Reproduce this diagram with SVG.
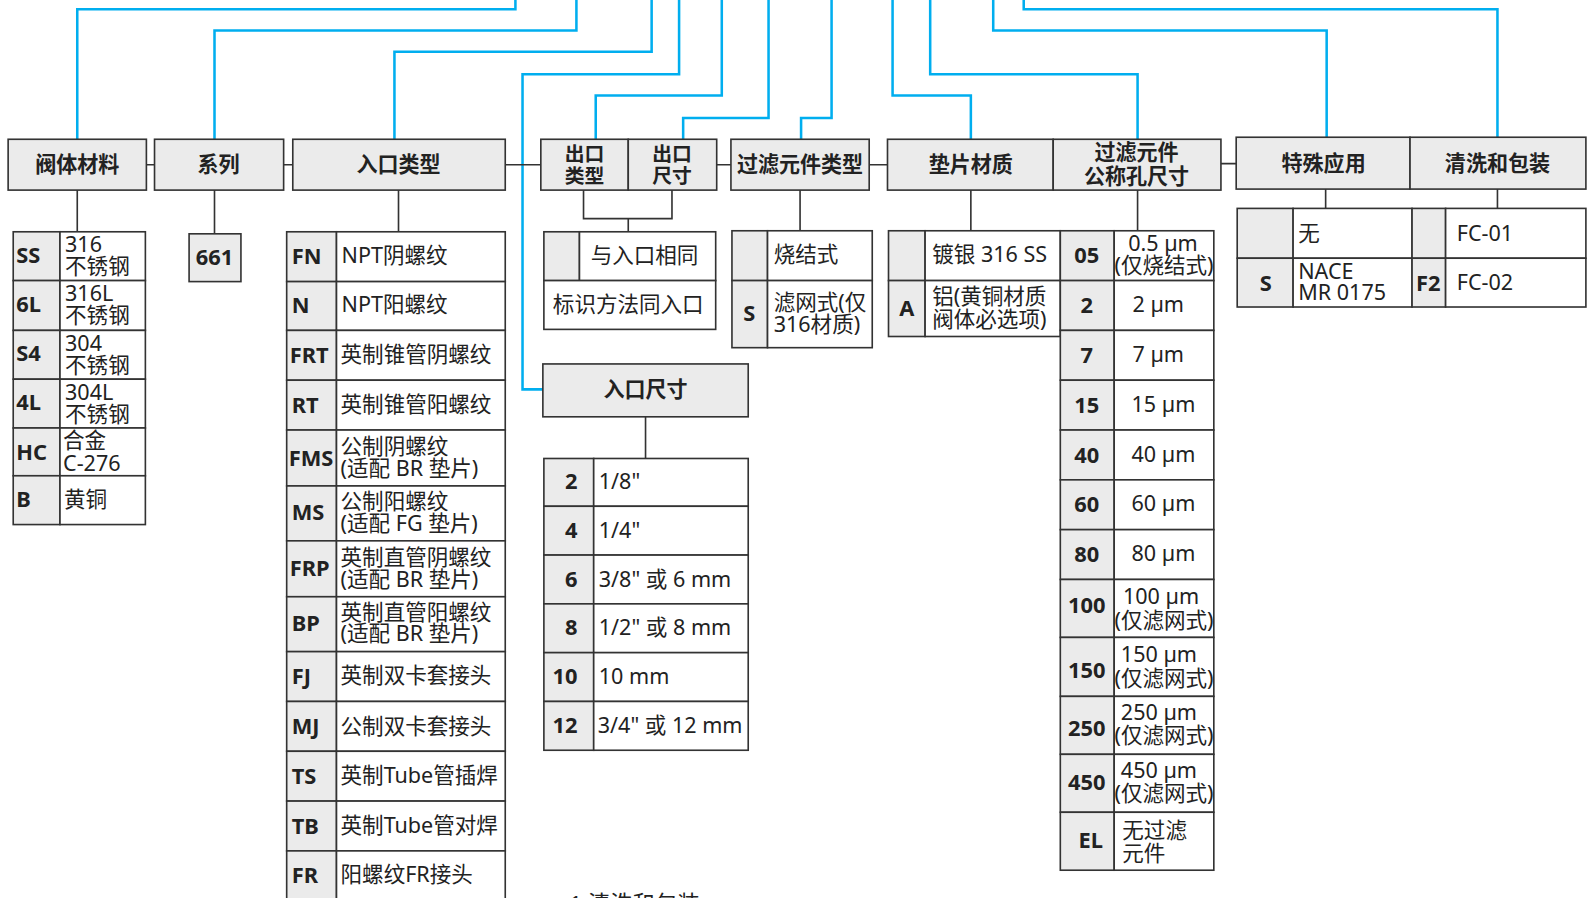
<svg xmlns="http://www.w3.org/2000/svg" width="1594" height="898" viewBox="0 0 1594 898">
<style>
.h{fill:#ebebeb;stroke:#333;stroke-width:1.6}
.w{fill:#fff;stroke:#333;stroke-width:1.6}
.g{fill:#ebebeb;stroke:#333;stroke-width:1.6}
.blue{fill:none;stroke:#00aeef;stroke-width:2.5}
.conn{fill:none;stroke:#333;stroke-width:1.6}
text{font-family:"Noto Sans","Noto Sans CJK SC",sans-serif;fill:#222}
.ht{font-size:20.7px;font-weight:bold;text-anchor:middle}
.ht2{font-size:19.5px;font-weight:bold;text-anchor:middle}
.c{font-size:21.5px;font-weight:bold}
.cm{font-size:21.5px;font-weight:bold;text-anchor:middle}
.ce{font-size:21.5px;font-weight:bold;text-anchor:end}
.t{font-size:21.2px}
.tm{font-size:21.2px;text-anchor:middle}
</style>
<rect width="1594" height="898" fill="#fff"/>
<g transform="scale(1.0166)">
<g id="connectors">
<path class="blue" d="M76 137V9H507V0"/>
<path class="blue" d="M211 137V30H567V0"/>
<path class="blue" d="M388 137V51H641V0"/>
<path class="blue" d="M534 383H514V73H668V0"/>
<path class="blue" d="M586 137V94H710V0"/>
<path class="blue" d="M672 137V116H756V0"/>
<path class="blue" d="M788 137V116H818V0"/>
<path class="blue" d="M955 137V94H878V0"/>
<path class="blue" d="M1119 137V73H915V0"/>
<path class="blue" d="M1305 135V30H977V0"/>
<path class="blue" d="M1473 135V9H1007V0"/>
<path class="conn" d="M144 162H152M279 162H288M497 162H532M705 162H719M855 162H873M1201 161H1216"/>
<path class="conn" d="M76 187V228M211 187V230M392 187V228M574 187V215H661V187M618 215V228M787 187V227M955 187V227M1119 187V227M1304 186V205M1473 186V205M635 410V451"/>
</g>
<g id="h-material"><rect class="h" x="8" y="137" width="136" height="50"/><text class="ht" x="76" y="169">阀体材料</text></g>
<g id="h-series"><rect class="h" x="152" y="137" width="127" height="50"/><text class="ht" x="215" y="169">系列</text></g>
<g id="h-inlet"><rect class="h" x="288" y="137" width="209" height="50"/><text class="ht" x="392" y="169">入口类型</text></g>
<g id="h-outlet"><rect class="h" x="532" y="137" width="86" height="50"/><rect class="h" x="618" y="137" width="87" height="50"/>
<text class="ht2" x="575" y="158">出口</text><text class="ht2" x="575" y="180">类型</text>
<text class="ht2" x="661" y="158">出口</text><text class="ht2" x="661" y="180">尺寸</text></g>
<g id="h-filter"><rect class="h" x="719" y="137" width="136" height="50"/><text class="ht" x="787" y="169">过滤元件类型</text></g>
<g id="h-gasket"><rect class="h" x="873" y="137" width="163" height="50"/><text class="ht" x="955" y="169">垫片材质</text></g>
<g id="h-pore"><rect class="h" x="1036" y="137" width="165" height="50"/><text class="ht" x="1118" y="157">过滤元件</text><text class="ht" x="1118" y="181">公称孔尺寸</text></g>
<g id="h-special"><rect class="h" x="1216" y="135" width="171" height="51"/><text class="ht" x="1302" y="168">特殊应用</text></g>
<g id="h-clean"><rect class="h" x="1387" y="135" width="173" height="51"/><text class="ht" x="1473" y="168">清洗和包装</text></g>
<g id="t-material">
<rect class="g" x="13" y="228" width="46" height="48"/><rect class="w" x="59" y="228" width="84" height="48"/>
<rect class="g" x="13" y="276" width="46" height="49"/><rect class="w" x="59" y="276" width="84" height="49"/>
<rect class="g" x="13" y="325" width="46" height="48"/><rect class="w" x="59" y="325" width="84" height="48"/>
<rect class="g" x="13" y="373" width="46" height="48"/><rect class="w" x="59" y="373" width="84" height="48"/>
<rect class="g" x="13" y="421" width="46" height="47"/><rect class="w" x="59" y="421" width="84" height="47"/>
<rect class="g" x="13" y="468" width="46" height="48"/><rect class="w" x="59" y="468" width="84" height="48"/>
<text class="c" x="16" y="259">SS</text><text class="t" x="64" y="248">316</text><text class="t" x="64" y="270">不锈钢</text>
<text class="c" x="16" y="307">6L</text><text class="t" x="64" y="296">316L</text><text class="t" x="64" y="318">不锈钢</text>
<text class="c" x="16" y="355">S4</text><text class="t" x="64" y="345">304</text><text class="t" x="64" y="367">不锈钢</text>
<text class="c" x="16" y="403">4L</text><text class="t" x="64" y="393">304L</text><text class="t" x="64" y="415">不锈钢</text>
<text class="c" x="16" y="452">HC</text><text class="t" x="62" y="441">合金</text><text class="t" x="62" y="463">C-276</text>
<text class="c" x="16" y="499">B</text><text class="t" x="63" y="499">黄铜</text>
</g>
<g id="t-series"><rect class="g" x="186" y="230" width="51" height="47"/><text class="cm" x="211" y="261">661</text></g>
<g id="t-inlet">
<rect class="g" x="282" y="228" width="49" height="49"/><rect class="w" x="331" y="228" width="166" height="49"/>
<rect class="g" x="282" y="277" width="49" height="48"/><rect class="w" x="331" y="277" width="166" height="48"/>
<rect class="g" x="282" y="325" width="49" height="49"/><rect class="w" x="331" y="325" width="166" height="49"/>
<rect class="g" x="282" y="374" width="49" height="49"/><rect class="w" x="331" y="374" width="166" height="49"/>
<rect class="g" x="282" y="423" width="49" height="55"/><rect class="w" x="331" y="423" width="166" height="55"/>
<rect class="g" x="282" y="478" width="49" height="54"/><rect class="w" x="331" y="478" width="166" height="54"/>
<rect class="g" x="282" y="532" width="49" height="55"/><rect class="w" x="331" y="532" width="166" height="55"/>
<rect class="g" x="282" y="587" width="49" height="54"/><rect class="w" x="331" y="587" width="166" height="54"/>
<rect class="g" x="282" y="641" width="49" height="49"/><rect class="w" x="331" y="641" width="166" height="49"/>
<rect class="g" x="282" y="690" width="49" height="49"/><rect class="w" x="331" y="690" width="166" height="49"/>
<rect class="g" x="282" y="739" width="49" height="49"/><rect class="w" x="331" y="739" width="166" height="49"/>
<rect class="g" x="282" y="788" width="49" height="49"/><rect class="w" x="331" y="788" width="166" height="49"/>
<rect class="g" x="282" y="837" width="49" height="80"/><rect class="w" x="331" y="837" width="166" height="80"/>
<text class="c" x="287" y="260">FN</text><text class="t" x="336" y="259">NPT阴螺纹</text>
<text class="c" x="287" y="308">N</text><text class="t" x="336" y="307">NPT阳螺纹</text>
<text class="c" x="285" y="357">FRT</text><text class="t" x="335" y="356">英制锥管阴螺纹</text>
<text class="c" x="287" y="406">RT</text><text class="t" x="335" y="405">英制锥管阳螺纹</text>
<text class="c" x="284" y="458">FMS</text><text class="t" x="335" y="447">公制阴螺纹</text><text class="t" x="335" y="468">(适配 BR 垫片)</text>
<text class="c" x="287" y="512">MS</text><text class="t" x="335" y="501">公制阳螺纹</text><text class="t" x="335" y="522">(适配 FG 垫片)</text>
<text class="c" x="285" y="567">FRP</text><text class="t" x="335" y="556">英制直管阴螺纹</text><text class="t" x="335" y="577">(适配 BR 垫片)</text>
<text class="c" x="287" y="621">BP</text><text class="t" x="335" y="610">英制直管阳螺纹</text><text class="t" x="335" y="631">(适配 BR 垫片)</text>
<text class="c" x="287" y="673">FJ</text><text class="t" x="335" y="672">英制双卡套接头</text>
<text class="c" x="287" y="722">MJ</text><text class="t" x="335" y="722">公制双卡套接头</text>
<text class="c" x="287" y="771">TS</text><text class="t" x="335" y="770">英制Tube管插焊</text>
<text class="c" x="287" y="820">TB</text><text class="t" x="335" y="819">英制Tube管对焊</text>
<text class="c" x="287" y="869">FR</text><text class="t" x="335" y="868">阳螺纹FR接头</text>
</g>
<g id="t-outlet">
<rect class="g" x="535" y="228" width="35" height="48"/><rect class="w" x="570" y="228" width="134" height="48"/>
<rect class="w" x="535" y="276" width="169" height="48"/>
<text class="tm" x="634" y="259">与入口相同</text>
<text class="tm" x="618" y="307">标识方法同入口</text>
</g>
<g id="h-inletsize"><rect class="h" x="534" y="358" width="202" height="52"/><text class="ht" x="635" y="391">入口尺寸</text></g>
<g id="t-inletsize">
<rect class="g" x="535" y="451" width="49" height="47"/><rect class="w" x="584" y="451" width="152" height="47"/>
<rect class="g" x="535" y="498" width="49" height="48"/><rect class="w" x="584" y="498" width="152" height="48"/>
<rect class="g" x="535" y="546" width="49" height="48"/><rect class="w" x="584" y="546" width="152" height="48"/>
<rect class="g" x="535" y="594" width="49" height="48"/><rect class="w" x="584" y="594" width="152" height="48"/>
<rect class="g" x="535" y="642" width="49" height="48"/><rect class="w" x="584" y="642" width="152" height="48"/>
<rect class="g" x="535" y="690" width="49" height="48"/><rect class="w" x="584" y="690" width="152" height="48"/>
<text class="ce" x="568" y="481">2</text><text class="t" x="589" y="481">1/8"</text>
<text class="ce" x="568" y="529">4</text><text class="t" x="589" y="529">1/4"</text>
<text class="ce" x="568" y="577">6</text><text class="t" x="589" y="577">3/8" 或 6 mm</text>
<text class="ce" x="568" y="625">8</text><text class="t" x="589" y="625">1/2" 或 8 mm</text>
<text class="ce" x="568" y="673">10</text><text class="t" x="589" y="673">10 mm</text>
<text class="ce" x="568" y="721">12</text><text class="t" x="588" y="721">3/4" 或 12 mm</text>
</g>
<g id="t-filter">
<rect class="g" x="720" y="227" width="35" height="49"/><rect class="w" x="755" y="227" width="103" height="49"/>
<rect class="g" x="720" y="276" width="35" height="66"/><rect class="w" x="755" y="276" width="103" height="66"/>
<text class="t" x="761" y="258">烧结式</text>
<text class="cm" x="737" y="316">S</text><text class="t" x="761" y="305">滤网式(仅</text><text class="t" x="761" y="327">316材质)</text>
</g>
<g id="t-gasket">
<rect class="g" x="874" y="227" width="36" height="49"/><rect class="w" x="910" y="227" width="133" height="49"/>
<rect class="g" x="874" y="276" width="36" height="55"/><rect class="w" x="910" y="276" width="133" height="55"/>
<text class="t" x="917" y="258">镀银 316 SS</text>
<text class="cm" x="892" y="311">A</text><text class="t" x="917" y="299">铝(黄铜材质</text><text class="t" x="917" y="322">阀体必选项)</text>
</g>
<g id="t-pore">
<rect class="g" x="1043" y="227" width="53" height="49"/><rect class="w" x="1096" y="227" width="98" height="49"/>
<rect class="g" x="1043" y="276" width="53" height="49"/><rect class="w" x="1096" y="276" width="98" height="49"/>
<rect class="g" x="1043" y="325" width="53" height="49"/><rect class="w" x="1096" y="325" width="98" height="49"/>
<rect class="g" x="1043" y="374" width="53" height="49"/><rect class="w" x="1096" y="374" width="98" height="49"/>
<rect class="g" x="1043" y="423" width="53" height="49"/><rect class="w" x="1096" y="423" width="98" height="49"/>
<rect class="g" x="1043" y="472" width="53" height="49"/><rect class="w" x="1096" y="472" width="98" height="49"/>
<rect class="g" x="1043" y="521" width="53" height="49"/><rect class="w" x="1096" y="521" width="98" height="49"/>
<rect class="g" x="1043" y="570" width="53" height="57"/><rect class="w" x="1096" y="570" width="98" height="57"/>
<rect class="g" x="1043" y="627" width="53" height="58"/><rect class="w" x="1096" y="627" width="98" height="58"/>
<rect class="g" x="1043" y="685" width="53" height="57"/><rect class="w" x="1096" y="685" width="98" height="57"/>
<rect class="g" x="1043" y="742" width="53" height="57"/><rect class="w" x="1096" y="742" width="98" height="57"/>
<rect class="g" x="1043" y="799" width="53" height="57"/><rect class="w" x="1096" y="799" width="98" height="57"/>
<text class="cm" x="1069" y="259">05</text><text class="tm" x="1144" y="247">0.5 µm</text><text class="tm" x="1145" y="269">(仅烧结式)</text>
<text class="cm" x="1069" y="308">2</text><text class="t" x="1114" y="307">2 µm</text>
<text class="cm" x="1069" y="357">7</text><text class="t" x="1114" y="356">7 µm</text>
<text class="cm" x="1069" y="406">15</text><text class="t" x="1113" y="405">15 µm</text>
<text class="cm" x="1069" y="455">40</text><text class="t" x="1113" y="454">40 µm</text>
<text class="cm" x="1069" y="504">60</text><text class="t" x="1113" y="503">60 µm</text>
<text class="cm" x="1069" y="553">80</text><text class="t" x="1113" y="552">80 µm</text>
<text class="cm" x="1069" y="603">100</text><text class="tm" x="1142" y="594">100 µm</text><text class="tm" x="1145" y="618">(仅滤网式)</text>
<text class="cm" x="1069" y="667">150</text><text class="tm" x="1140" y="651">150 µm</text><text class="tm" x="1145" y="675">(仅滤网式)</text>
<text class="cm" x="1069" y="724">250</text><text class="tm" x="1140" y="708">250 µm</text><text class="tm" x="1145" y="731">(仅滤网式)</text>
<text class="cm" x="1069" y="777">450</text><text class="tm" x="1140" y="765">450 µm</text><text class="tm" x="1145" y="788">(仅滤网式)</text>
<text class="cm" x="1073" y="834">EL</text><text class="t" x="1104" y="824">无过滤</text><text class="t" x="1104" y="847">元件</text>
</g>
<g id="t-special">
<rect class="g" x="1217" y="205" width="55" height="49"/><rect class="w" x="1272" y="205" width="117" height="49"/>
<rect class="g" x="1389" y="205" width="33" height="49"/><rect class="w" x="1422" y="205" width="138" height="49"/>
<rect class="g" x="1217" y="254" width="55" height="48"/><rect class="w" x="1272" y="254" width="117" height="48"/>
<rect class="g" x="1389" y="254" width="33" height="48"/><rect class="w" x="1422" y="254" width="138" height="48"/>
<text class="t" x="1277" y="237">无</text><text class="t" x="1433" y="237">FC-01</text>
<text class="cm" x="1245" y="286">S</text><text class="t" x="1277" y="274">NACE</text><text class="t" x="1277" y="295">MR 0175</text>
<text class="cm" x="1405" y="286">F2</text><text class="t" x="1433" y="285">FC-02</text>
</g>
<text x="560" y="897" style="font-size:22px">1 清洗和包装</text>
</g>
</svg>
